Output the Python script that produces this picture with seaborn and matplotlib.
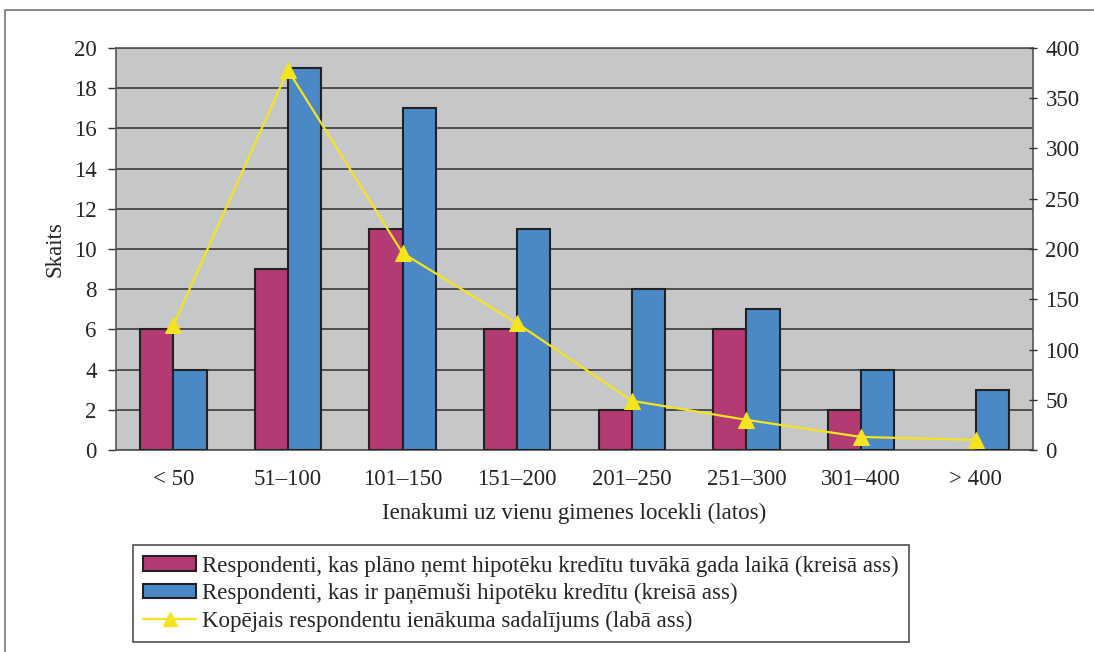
import pandas as pd
import seaborn as sns
import matplotlib.pyplot as plt
from matplotlib.patches import Rectangle

# Data
categories = ['< 50', '51–100', '101–150', '151–200', '201–250', '251–300', '301–400', '> 400']
planning = [6, 9, 11, 6, 2, 6, 2, 0]
taken = [4, 19, 17, 11, 8, 7, 4, 3]
income_dist = [124, 378, 196, 126, 49, 30, 13, 10]

lbl_plan = 'Respondenti, kas plāno ņemt hipotēku kredītu tuvākā gada laikā (kreisā ass)'
lbl_taken = 'Respondenti, kas ir paņēmuši hipotēku kredītu (kreisā ass)'
lbl_line = 'Kopējais respondentu ienākuma sadalījums (labā ass)'

bars = pd.DataFrame({
    'cat': categories * 2,
    'val': planning + taken,
    'series': [lbl_plan] * len(categories) + [lbl_taken] * len(categories),
})
line = pd.DataFrame({'cat': categories, 'val': income_dist})

sns.set_style('white')
plt.rcParams['font.family'] = ['Liberation Serif', 'DejaVu Serif']
fs = 16.5

fig = plt.figure(figsize=(10.94, 6.52), dpi=100)
ax = fig.add_axes([116 / 1094, 1 - 450 / 652, (1033 - 116) / 1094, (450 - 48) / 652])
ax.set_facecolor('#C6C7C9')

sns.barplot(data=bars, x='cat', y='val', hue='series', ax=ax,
            palette=['#B33A73', '#4A88C6'], width=0.58, gap=0,
            edgecolor='#222222', linewidth=1.5, saturation=1, legend=False, zorder=3)
# empty bars leave no outline
for p in ax.patches:
    if p.get_height() == 0:
        p.set_linewidth(0)

ax.set_ylim(0, 20)
ax.set_yticks(range(0, 21, 2))
ax.set_xlim(-0.5, len(categories) - 0.5)
ax.grid(axis='y', color='#3a3a3a', linewidth=1.2, zorder=0)
ax.set_axisbelow(True)
ax.set_xlabel('Ienakumi uz vienu gimenes locekli (latos)', fontsize=fs, labelpad=9)
ax.set_ylabel('Skaits', fontsize=fs, labelpad=6)
ax.set_xticks(range(len(categories)))
ax.set_xticklabels(categories)
ax.tick_params(axis='x', length=0, pad=14, labelsize=fs)
ax.set_xticks([i + 0.5 for i in range(len(categories) - 1)], minor=True)
ax.tick_params(axis='x', which='minor', length=9, width=1, color='#333333')
ax.tick_params(axis='y', length=6, width=1, color='#333333', left=True, labelsize=fs, pad=8)
for s in ax.spines.values():
    s.set_color('#555555')
    s.set_linewidth(1.2)

ax2 = ax.twinx()
sns.lineplot(data=line, x='cat', y='val', ax=ax2, color='#F5E31E', linewidth=1.6,
             marker='^', markersize=11, markeredgecolor='#F5E31E', zorder=5)
ax2.set_ylim(0, 400)
ax2.set_yticks(range(0, 401, 50))
ax2.set_ylabel('')
ax2.tick_params(axis='y', length=6, width=1, color='#333333', direction='inout',
                right=True, labelsize=fs, pad=6)
for s in ax2.spines.values():
    s.set_visible(False)

# legend
handles = [
    Rectangle((0, 0), 1, 1, facecolor='#B33A73', edgecolor='#222222', linewidth=1.5),
    Rectangle((0, 0), 1, 1, facecolor='#4A88C6', edgecolor='#222222', linewidth=1.5),
    plt.Line2D([], [], color='#F5E31E', marker='^', markersize=10, linewidth=1.6),
]
leg = fig.legend(handles, [lbl_plan, lbl_taken, lbl_line], loc='upper left',
                 bbox_to_anchor=(133 / 1094, 1 - 545 / 652), frameon=True, fancybox=False,
                 edgecolor='#222222', fontsize=fs, handlelength=2.3, handleheight=0.6,
                 labelspacing=0.28, borderpad=0.45, handletextpad=0.25, borderaxespad=0)
leg.get_frame().set_linewidth(1.2)

# outer frame
fig.patches.append(Rectangle((5 / 1094, -0.01), 1.02, 1 - 10 / 652 + 0.01, transform=fig.transFigure,
                             fill=False, edgecolor='#777777', linewidth=1.2))

fig.savefig('out.png', dpi=100)
